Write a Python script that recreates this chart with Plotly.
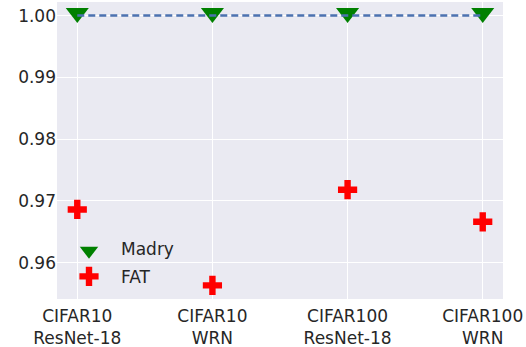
import plotly.graph_objects as go

categories = ["CIFAR10<br>ResNet-18", "CIFAR10<br>WRN", "CIFAR100<br>ResNet-18", "CIFAR100<br>WRN"]
madry = [1.0, 1.0, 1.0, 1.0]
fat = [0.9686, 0.9563, 0.9718, 0.9666]
y_ticks = [0.96, 0.97, 0.98, 0.99, 1.00]

xs = list(range(len(categories)))
FONT = "DejaVu Sans"
TXT = "#262626"
FS = 17

fig = go.Figure()
fig.add_trace(go.Scatter(
    x=xs, y=madry, mode="markers", name="Madry", cliponaxis=False, legendgroup="m",
    marker=dict(symbol="triangle-up", angle=180, standoff=2.5, size=20, color="green",
                line=dict(width=0)),
))
fig.add_trace(go.Scatter(
    x=xs, y=fat, mode="markers", name="FAT", cliponaxis=False, legendgroup="f",
    marker=dict(symbol="cross", size=16, color="red", line=dict(width=0)),
))
fig.add_trace(go.Scatter(
    x=xs, y=madry, mode="lines", showlegend=False, hoverinfo="skip", cliponaxis=False,
    line=dict(color="#4C72B0", width=2.5, dash="7px,4px"),
))

fig.update_layout(
    width=526, height=347,
    margin=dict(l=57, r=23, t=2, b=48),
    paper_bgcolor="white", plot_bgcolor="#EAEAF2",
    font=dict(family=FONT, size=FS, color=TXT),
    showlegend=True,
    legend=dict(x=0.0, y=0.23, xanchor="left", yanchor="top",
                bgcolor="rgba(0,0,0,0)", itemwidth=54,
                traceorder="grouped", tracegroupgap=3,
                font=dict(family=FONT, size=FS, color=TXT)),
    xaxis=dict(range=[-0.15, 3.15], tickvals=xs, ticktext=categories,
               showgrid=True, gridcolor="white", gridwidth=1.3, automargin=False,
               zeroline=False, showline=False, ticks="", ticklabelstandoff=5,
               tickfont=dict(family=FONT, size=FS, color=TXT)),
    yaxis=dict(range=[0.9541, 1.0022], tickvals=y_ticks, tickformat=".2f",
               showgrid=True, gridcolor="white", gridwidth=1.3, automargin=False,
               zeroline=False, showline=False, ticks="",
               tickfont=dict(family=FONT, size=FS, color=TXT)),
)

fig.write_html("out.html", config={"displayModeBar": False},
               post_script="document.body.style.margin='0';")
